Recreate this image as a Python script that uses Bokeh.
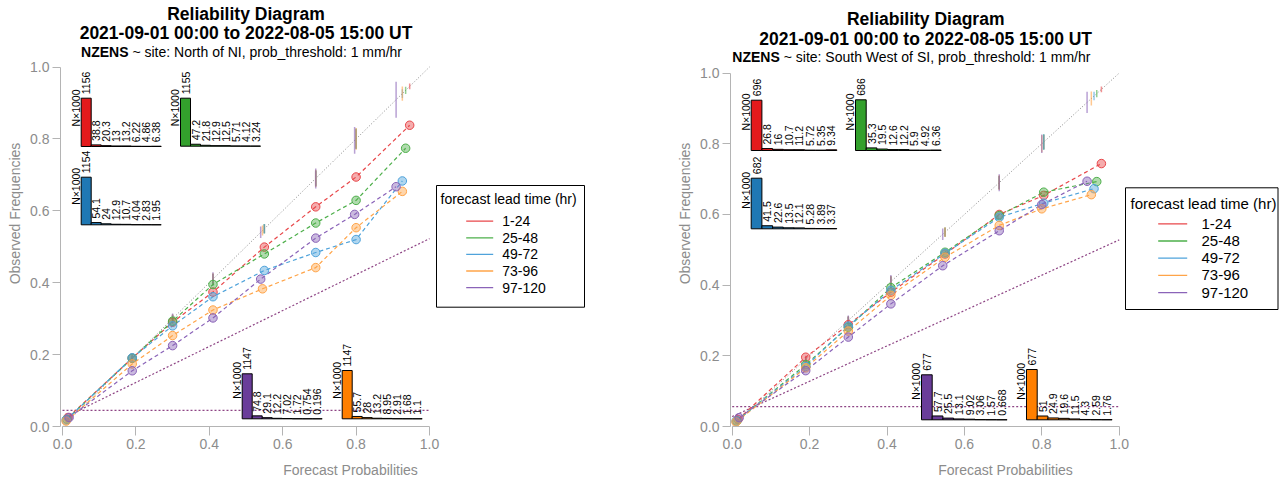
import numpy as np
from bokeh.plotting import figure
from bokeh.layouts import row
from bokeh.models import Range1d, FixedTicker, PrintfTickFormatter
from bokeh.core.properties import value
from bokeh.embed import file_html
from bokeh.resources import INLINE

FONT = "Liberation Sans"

# ---------------------------------------------------------------- data
lead_times = ["1-24", "25-48", "49-72", "73-96", "97-120"]
series_colors = ["#E8474A", "#4DAF4A", "#4FA3DB", "#FFA448", "#8A63B8"]
bar_colors = ["#E31A1C", "#33A02C", "#1F78B4", "#FF7F00", "#6A3D9A"]
axis_ticks = [0.0, 0.2, 0.4, 0.6, 0.8, 1.0]

period = "2021-09-01 00:00 to 2022-08-05 15:00 UT"
model = "NZENS"
threshold = "1 mm/hr"

# --- North of NI (left panel)
ni_site = "North of NI"
ni_climatology = 0.045
ni_fcst_prob = [
    [0.015, 0.19, 0.30, 0.41, 0.55, 0.69, 0.80, 0.946],
    [0.012, 0.19, 0.30, 0.41, 0.55, 0.69, 0.80, 0.935],
    [0.010, 0.19, 0.30, 0.41, 0.55, 0.69, 0.80, 0.926],
    [0.010, 0.19, 0.30, 0.41, 0.545, 0.69, 0.80, 0.926],
    [0.018, 0.19, 0.30, 0.41, 0.54, 0.69, 0.796, 0.909],
]
ni_obs_freq = [
    [0.025, 0.190, 0.290, 0.374, 0.499, 0.611, 0.694, 0.838],
    [0.020, 0.190, 0.293, 0.395, 0.480, 0.566, 0.629, 0.774],
    [0.018, 0.191, 0.280, 0.361, 0.434, 0.484, 0.520, 0.683],
    [0.015, 0.174, 0.253, 0.324, 0.383, 0.442, 0.553, 0.654],
    [0.025, 0.155, 0.225, 0.302, 0.410, 0.524, 0.590, 0.667],
]
ni_consistency_hw = [
    [0.003, 0.007, 0.010, 0.014, 0.012, 0.020, 0.026, 0.008],
    [0.003, 0.007, 0.011, 0.015, 0.013, 0.022, 0.028, 0.010],
    [0.003, 0.007, 0.011, 0.015, 0.013, 0.022, 0.028, 0.012],
    [0.003, 0.008, 0.012, 0.016, 0.014, 0.024, 0.030, 0.020],
    [0.004, 0.010, 0.014, 0.019, 0.016, 0.028, 0.037, 0.050],
]
ni_counts_k = [
    [1156, 38.8, 20.3, 13, 13.2, 6.22, 4.86, 6.38],
    [1155, 47.2, 21.8, 12.9, 12.5, 5.71, 4.12, 3.24],
    [1154, 54.1, 24, 12.9, 10.7, 4.04, 2.83, 1.95],
    [1147, 55.7, 28, 13.2, 8.95, 2.91, 1.68, 1.1],
    [1147, 74.8, 29.1, 12.2, 7.02, 1.72, 0.754, 0.196],
]

# --- South West of SI (right panel)
si_site = "South West of SI"
si_climatology = 0.056
si_fcst_prob = [
    [0.015, 0.19, 0.30, 0.41, 0.55, 0.69, 0.805, 0.954],
    [0.012, 0.19, 0.30, 0.41, 0.55, 0.69, 0.805, 0.942],
    [0.010, 0.19, 0.30, 0.41, 0.55, 0.69, 0.805, 0.935],
    [0.010, 0.19, 0.30, 0.41, 0.55, 0.69, 0.800, 0.928],
    [0.018, 0.19, 0.30, 0.41, 0.544, 0.69, 0.800, 0.917],
]
si_obs_freq = [
    [0.020, 0.196, 0.288, 0.380, 0.488, 0.600, 0.654, 0.744],
    [0.016, 0.175, 0.281, 0.393, 0.493, 0.597, 0.663, 0.693],
    [0.015, 0.170, 0.284, 0.385, 0.490, 0.592, 0.632, 0.673],
    [0.013, 0.166, 0.270, 0.371, 0.479, 0.569, 0.616, 0.656],
    [0.025, 0.158, 0.253, 0.347, 0.455, 0.554, 0.628, 0.694],
]
si_consistency_hw = [
    [0.003, 0.007, 0.010, 0.014, 0.012, 0.018, 0.020, 0.008],
    [0.003, 0.007, 0.011, 0.015, 0.013, 0.019, 0.022, 0.010],
    [0.003, 0.007, 0.011, 0.015, 0.013, 0.019, 0.022, 0.012],
    [0.003, 0.008, 0.012, 0.016, 0.014, 0.021, 0.024, 0.020],
    [0.004, 0.010, 0.014, 0.019, 0.016, 0.024, 0.026, 0.030],
]
si_counts_k = [
    [696, 26.8, 16, 10.7, 11.2, 5.72, 5.35, 9.34],
    [686, 35.3, 19.5, 12.6, 12.2, 5.9, 4.92, 6.36],
    [682, 41.5, 22.6, 13.5, 12.1, 5.28, 3.89, 3.37],
    [677, 51, 24.9, 19.6, 11.5, 4.3, 2.59, 1.76],
    [677, 57.7, 25.5, 13.1, 9.02, 3.06, 1.57, 0.668],
]

# ---------------------------------------------------------------- layout (page pixels)
LEFT = dict(
    fig_x=0, fig_y=0, width=640, height=480,
    x0=62.0, x1=429.0, y0=426.0, y1=66.5,
    frame_left=60, frame_right=640, frame_top=0, frame_bottom=426,
    title_y=[13.0, 32.8, 51.5], join=128.0,
    insets=[(80.7, 146.0, 10.0, 48.3), (180.0, 145.7, 10.0, 48.0),
            (80.7, 224.3, 10.0, 47.6), (341.7, 418.3, 10.0, 48.3),
            (241.7, 418.3, 10.0, 45.0)],
    legend=dict(left=436, right=584, top=185, bottom=306.7, title_x=440, title_y=198,
                row0=220.7, pitch=16.6, seg=(465.7, 492.7), label_x=501.7, font="14px"),
)
RIGHT = dict(
    fig_x=640, fig_y=0, width=640, height=480,
    x0=731.7, x1=1118.7, y0=426.0, y1=72.6,
    frame_left=730, frame_right=1280, frame_top=0, frame_bottom=426,
    title_y=[18.7, 38.5, 56.0], join=779.3,
    insets=[(750.7, 150.0, 10.7, 50.3), (855.0, 150.0, 10.7, 50.7),
            (750.7, 228.3, 10.7, 50.6), (1026.0, 419.3, 10.7, 50.3),
            (921.0, 419.3, 10.7, 45.0)],
    legend=dict(left=1125, right=1277.5, top=187.3, bottom=309, title_x=1130, title_y=202.7,
                row0=223.3, pitch=17.2, seg=(1157.7, 1186.7), label_x=1201, font="15px"),
)


def fmt(v):
    return str(int(round(v))) if v >= 100 else f"{v:.3g}"


def build_panel(site, fcst, obs, cons, counts, clim, g):
    sx = g["x1"] - g["x0"]
    sy = g["y0"] - g["y1"]

    def X(ax):
        return (ax - g["x0"]) / sx

    def Y(ay):
        return (g["y0"] - ay) / sy

    p = figure(
        width=g["width"], height=g["height"], output_backend="svg", toolbar_location=None,
        x_range=Range1d(X(g["frame_left"]), X(g["frame_right"])),
        y_range=Range1d(Y(g["frame_bottom"]), Y(g["frame_top"])),
        min_border_left=g["frame_left"] - g["fig_x"],
        min_border_right=g["fig_x"] + g["width"] - g["frame_right"],
        min_border_top=g["frame_top"] - g["fig_y"],
        min_border_bottom=g["fig_y"] + g["height"] - g["frame_bottom"],
    )
    p.outline_line_color = None
    p.grid.visible = False
    p.background_fill_color = "white"
    p.border_fill_color = "white"

    for ax in (p.xaxis[0], p.yaxis[0]):
        ax.bounds = (0, 1)
        ax.ticker = FixedTicker(ticks=axis_ticks)
        ax.formatter = PrintfTickFormatter(format="%.1f")
        ax.axis_line_color = "#B4B4B4"
        ax.major_tick_line_color = "#B4B4B4"
        ax.minor_tick_line_color = None
        ax.major_tick_in = 0
        ax.major_label_text_font = FONT
        ax.major_label_text_font_size = "14px"
        ax.major_label_text_color = "#8C8C8C"
        ax.axis_label_text_font = FONT
        ax.axis_label_text_font_size = "14px"
        ax.axis_label_text_font_style = "normal"
        ax.axis_label_text_color = "#8C8C8C"
    p.xaxis.axis_label = "Forecast Probabilities"
    p.yaxis.axis_label = "Observed Frequencies"
    p.xaxis.major_tick_out = 9
    p.xaxis.major_label_standoff = 3
    p.xaxis.axis_label_standoff = 10
    p.yaxis.major_tick_out = 8
    p.yaxis.major_label_standoff = 3
    p.yaxis.axis_label_standoff = 4

    # reference lines
    p.line([0, 1], [0, 1], line_color="#888888", line_dash="1 2", line_width=1)
    p.line([0, 1], [clim, clim], line_color="#8E4585", line_dash="2 2", line_width=1.2)
    p.line([0, 1], [(0 + clim) / 2, (1 + clim) / 2], line_color="#8E4585",
           line_dash="2 2", line_width=1.2)

    # consistency bars on the diagonal
    for i in range(5):
        xs = fcst[i]
        p.segment(x0=xs, x1=xs, y0=[x - h for x, h in zip(xs, cons[i])],
                  y1=[x + h for x, h in zip(xs, cons[i])],
                  line_color=series_colors[i], line_alpha=0.6, line_width=1.5)

    # reliability curves
    for i in range(5):
        p.line(fcst[i], obs[i], line_color=series_colors[i], line_dash="4 3", line_width=1.2)
    for i in range(5):
        p.scatter(fcst[i], obs[i], marker="circle", size=8.5, fill_color=series_colors[i],
                  fill_alpha=0.45, line_color=series_colors[i], line_width=1)

    # sharpness histograms (inset)
    for i in range(5):
        ix, ib, bw, bh = g["insets"][i]
        c = counts[i]
        cmax = max(c)
        n = len(c)
        p.quad(left=[X(ix + j * bw) for j in range(n)],
               right=[X(ix + (j + 1) * bw) for j in range(n)],
               top=[Y(ib - v / cmax * bh) for v in c],
               bottom=[Y(ib)] * n,
               fill_color=bar_colors[i], line_color="black", line_width=1)
        p.text(x=[X(ix + (j + 0.5) * bw) for j in range(n)],
               y=[Y(ib - v / cmax * bh - 4) for v in c],
               text=[fmt(v) for v in c], angle=np.pi / 2,
               text_align="left", text_baseline="middle",
               text_font=value(FONT), text_font_size="10.5px", text_color="black")
        p.text(x=[X(ix - 5.5)], y=[Y(ib - 57)], text=["N\u00d71000"], angle=np.pi / 2,
               text_align="right", text_baseline="middle",
               text_font=value(FONT), text_font_size="10.5px", text_color="black")

    # legend
    L = g["legend"]
    p.quad(left=[X(L["left"])], right=[X(L["right"])], top=[Y(L["top"])],
           bottom=[Y(L["bottom"])], fill_color="white", line_color="black", line_width=1)
    p.text(x=[X(L["title_x"])], y=[Y(L["title_y"])], text=["forecast lead time (hr)"],
           text_align="left", text_baseline="middle", text_font=value(FONT),
           text_font_size=L["font"], text_color="black")
    rows_y = [Y(L["row0"] + k * L["pitch"]) for k in range(5)]
    p.segment(x0=[X(L["seg"][0])] * 5, x1=[X(L["seg"][1])] * 5, y0=rows_y, y1=rows_y,
              line_color=series_colors, line_width=1.3)
    p.text(x=[X(L["label_x"])] * 5, y=rows_y, text=lead_times, text_align="left",
           text_baseline="middle", text_font=value(FONT), text_font_size=L["font"],
           text_color="black")

    # titles
    ty = g["title_y"]
    p.text(x=[0.5], y=[Y(ty[0])], text=["Reliability Diagram"], text_align="center",
           text_baseline="middle", text_font=value(FONT), text_font_style="bold",
           text_font_size="17.5px", text_color="black")
    p.text(x=[0.5], y=[Y(ty[1])], text=[period], text_align="center",
           text_baseline="middle", text_font=value(FONT), text_font_style="bold",
           text_font_size="17.5px", text_color="black")
    p.text(x=[X(g["join"])], y=[Y(ty[2])], text=[model], text_align="right",
           text_baseline="middle", text_font=value(FONT), text_font_style="bold",
           text_font_size="14px", text_color="black")
    p.text(x=[X(g["join"] + 3.9)], y=[Y(ty[2])],
           text=[f"~ site: {site}, prob_threshold: {threshold}"], text_align="left",
           text_baseline="middle", text_font=value(FONT),
           text_font_size="14px", text_color="black")
    return p


p_left = build_panel(ni_site, ni_fcst_prob, ni_obs_freq, ni_consistency_hw, ni_counts_k,
                     ni_climatology, LEFT)
p_right = build_panel(si_site, si_fcst_prob, si_obs_freq, si_consistency_hw, si_counts_k,
                      si_climatology, RIGHT)

layout = row(p_left, p_right)
open("out.html", "w").write(file_html(layout, INLINE))
